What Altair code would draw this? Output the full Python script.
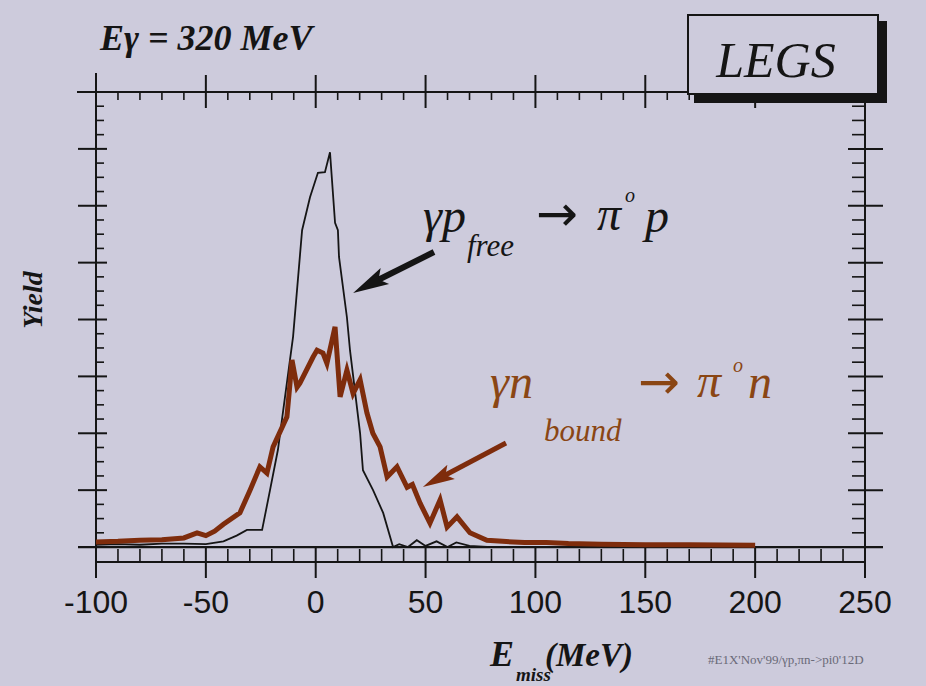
import altair as alt
import pandas as pd

# ---------------- data ----------------
free_E = [-100, -90, -80, -70, -60, -50, -42, -36, -31.3, -24.4, -20.8, -17.2, -10.3,
          -6.2, -2.6, 1.0, 4.2, 6.5, 8.8, 10.1, 10.6, 14.2, 15.6, 20.2, 21.5, 26.1,
          30.7, 35.2, 38, 42, 46, 50, 55, 60, 64, 70, 80]
free_Y = [0.04, 0.05, 0.04, 0.06, 0.06, 0.05, 0.1, 0.2, 0.30, 0.30, 1.00, 1.71, 3.7,
          5.57, 6.15, 6.58, 6.59, 6.94, 5.70, 5.57, 5.10, 4.04, 3.46, 2.00, 1.35, 1.00,
          0.60, 0.0, 0.05, 0.0, 0.12, 0.02, 0.1, 0.0, 0.08, 0.02, 0.0]

bound_E = [-100, -90, -80, -70, -60, -54, -50, -46, -42, -34.5, -29.9, -25.4, -22.2,
           -19.4, -13.1, -11.7, -10.8, -8.5, -7.2, -1.2, 0.6, 3.3, 5.1, 8.8, 11.1,
           14.2, 17, 20.2, 23.3, 26, 29.3, 32.5, 37, 41.6, 44, 47.5, 52, 56.6, 59.8,
           64.3, 70.2, 77.9, 85, 95, 105, 115, 130, 150, 170, 200]
bound_Y = [0.09, 0.1, 0.12, 0.13, 0.16, 0.25, 0.2, 0.28, 0.4, 0.60, 1.00, 1.41, 1.30,
           1.76, 2.29, 2.88, 3.29, 2.81, 2.88, 3.34, 3.46, 3.41, 3.23, 3.87, 2.64,
           3.11, 2.7, 2.94, 2.36, 2.0, 1.76, 1.23, 1.41, 1.05, 1.1, 0.77, 0.42, 0.83,
           0.35, 0.53, 0.25, 0.12, 0.1, 0.08, 0.08, 0.06, 0.05, 0.04, 0.04, 0.03]

x_major = [-100, -50, 0, 50, 100, 150, 200, 250]
x_labels = ["-100", "-50", "0", "50", "100", "150", "200", "250"]
x_minor = [v for v in range(-100, 251, 10) if v % 50 != 0]
y_major = [0, 1, 2, 3, 4, 5, 6, 7, 8]
y_minor = [i * 0.25 for i in range(33) if i % 4 != 0]

# ---------------- styling ----------------
W, H = 769, 470
BG = "#cdcbdc"
INK = "#151515"
BROWN = "#7e2c0c"
BROWN_TXT = "#8a4614"
SERIF = "Liberation Serif"
SANS = "Liberation Sans"

xs = alt.Scale(domain=[-100, 250], nice=False, zero=False)
ys = alt.Scale(domain=[-0.2632, 8], nice=False, zero=False)

one = pd.DataFrame({"a": [0]})
df_free = pd.DataFrame({"E": free_E, "Y": free_Y})
df_bound = pd.DataFrame({"E": bound_E, "Y": bound_Y})
df_xmaj = pd.DataFrame({"v": x_major, "lab": x_labels})
df_xmin = pd.DataFrame({"v": x_minor})
df_ymaj = pd.DataFrame({"v": y_major})
df_ymin = pd.DataFrame({"v": y_minor})
df_zero = pd.DataFrame({"v": [0]})

X = lambda: alt.X("v:Q", scale=xs, axis=None)
Y = lambda: alt.Y("v:Q", scale=ys, axis=None)

layers = []

def hline(y, x1, x2, w=2):
    return alt.Chart(one).mark_rule(color=INK, strokeWidth=w).encode(
        x=alt.value(x1), x2=alt.value(x2), y=alt.value(y))

def vline(x, y1, y2, w=2):
    return alt.Chart(one).mark_rule(color=INK, strokeWidth=w).encode(
        y=alt.value(y1), y2=alt.value(y2), x=alt.value(x))

layers += [hline(0, -19, W), hline(H, 0, W), vline(0, -19, 486), vline(W, 0, 486)]
layers.append(alt.Chart(df_zero).mark_rule(color=INK, strokeWidth=2.2).encode(
    y=Y(), x=alt.value(-18), x2=alt.value(787)))

# x ticks bottom
layers.append(alt.Chart(df_xmaj).mark_rule(color=INK, strokeWidth=2).encode(
    x=X(), y=alt.value(455), y2=alt.value(486)))
layers.append(alt.Chart(df_xmin).mark_rule(color=INK, strokeWidth=1.6).encode(
    x=X(), y=alt.value(457), y2=alt.value(470)))
# x ticks top
layers.append(alt.Chart(df_xmaj).mark_rule(color=INK, strokeWidth=2).encode(
    x=X(), y=alt.value(-17), y2=alt.value(16)))
layers.append(alt.Chart(df_xmin).mark_rule(color=INK, strokeWidth=1.6).encode(
    x=X(), y=alt.value(0), y2=alt.value(8)))
# y ticks left
layers.append(alt.Chart(df_ymaj).mark_rule(color=INK, strokeWidth=2).encode(
    y=Y(), x=alt.value(-18), x2=alt.value(11)))
layers.append(alt.Chart(df_ymin).mark_rule(color=INK, strokeWidth=1.6).encode(
    y=Y(), x=alt.value(0), x2=alt.value(8)))
# y ticks right
layers.append(alt.Chart(df_ymaj).mark_rule(color=INK, strokeWidth=2).encode(
    y=Y(), x=alt.value(752), x2=alt.value(787)))
layers.append(alt.Chart(df_ymin).mark_rule(color=INK, strokeWidth=1.6).encode(
    y=Y(), x=alt.value(756), x2=alt.value(W)))

# x tick labels
layers.append(alt.Chart(df_xmaj).mark_text(
    font=SANS, fontSize=32, color=INK, align="center", baseline="alphabetic").encode(
    x=X(), y=alt.value(521), text="lab:N"))

# curves
layers.append(alt.Chart(df_free).mark_line(color=INK, strokeWidth=1.8).encode(
    x=alt.X("E:Q", scale=xs, axis=None), y=alt.Y("Y:Q", scale=ys, axis=None)))
layers.append(alt.Chart(df_bound).mark_line(color=BROWN, strokeWidth=5, strokeJoin="miter").encode(
    x=alt.X("E:Q", scale=xs, axis=None), y=alt.Y("Y:Q", scale=ys, axis=None)))

# LEGS box
layers.append(alt.Chart(one).mark_rect(color=INK).encode(
    x=alt.value(598), x2=alt.value(791), y=alt.value(-71), y2=alt.value(11)))
layers.append(alt.Chart(one).mark_rect(fill=BG, stroke=INK, strokeWidth=2).encode(
    x=alt.value(592), x2=alt.value(782), y=alt.value(-77), y2=alt.value(2)))

def txt(s, x, y, size, color=INK, font=SERIF, italic=True, bold=False,
        align="left", angle=0):
    kw = dict(text=s, font=font, fontSize=size, color=color, align=align,
              baseline="alphabetic")
    if italic:
        kw["fontStyle"] = "italic"
    if bold:
        kw["fontWeight"] = "bold"
    if angle:
        kw["angle"] = angle
        kw["baseline"] = "middle"
    return alt.Chart(one).mark_text(**kw).encode(x=alt.value(x), y=alt.value(y))

ARR_FONT = "DejaVu Sans"
layers += [
    txt("LEGS", 680, -15, 50, align="center"),
    txt("Eγ = 320 MeV", 4, -42, 36, bold=True),
    # gamma p_free -> pi0 p
    txt("γp", 327, 140, 48),
    txt("free", 371, 164, 31),
    txt("→", 440, 139, 50, italic=False, font=ARR_FONT),
    txt("π", 501, 138, 48),
    txt("o", 529, 110, 20),
    txt("p", 549, 140, 48),
    # gamma n_bound -> pi0 n
    txt("γn", 394, 306, 48, color=BROWN_TXT),
    txt("bound", 448, 349, 31, color=BROWN_TXT),
    txt("→", 542, 307, 50, color=BROWN_TXT, italic=False, font=ARR_FONT),
    txt("π", 601, 305, 48, color=BROWN_TXT),
    txt("o", 637, 280, 20, color=BROWN_TXT),
    txt("n", 652, 306, 48, color=BROWN_TXT),
    # axis titles
    txt("E", 394, 574, 36, bold=True),
    txt("miss", 420, 589, 19, bold=True),
    txt("(MeV)", 449, 574, 33, bold=True),
    txt("Yield", -62, 208, 28, bold=True, align="center", angle=270),
    txt("#E1X'Nov'99/γp,πn->pi0'12D", 612, 572, 13, color="#6a6a78", italic=False),
]

# arrows
ARROW = "M0,-1 L0.5,1 L0,0.6 L-0.5,1 Z"
layers.append(alt.Chart(one).mark_rule(color=INK, strokeWidth=6).encode(
    x=alt.value(338), y=alt.value(160), x2=alt.value(270), y2=alt.value(194)))
layers.append(alt.Chart(one).mark_point(shape=ARROW, filled=True, color=INK, opacity=1,
                                        size=1296, angle=242).encode(
    x=alt.value(273), y=alt.value(192.5)))
layers.append(alt.Chart(one).mark_rule(color=BROWN, strokeWidth=5).encode(
    x=alt.value(410), y=alt.value(351), x2=alt.value(340), y2=alt.value(388)))
layers.append(alt.Chart(one).mark_point(shape=ARROW, filled=True, color=BROWN, opacity=1,
                                        size=1024, angle=242).encode(
    x=alt.value(341), y=alt.value(387.4)))

chart = alt.layer(*layers).properties(
    width=W, height=H, background=BG,
    padding={"left": 96, "top": 92, "right": 61, "bottom": 124},
    autosize=alt.AutoSizeParams(type="none"),
).configure_view(stroke=None)

chart.save("out.html", embed_options={"renderer": "svg", "actions": False})
